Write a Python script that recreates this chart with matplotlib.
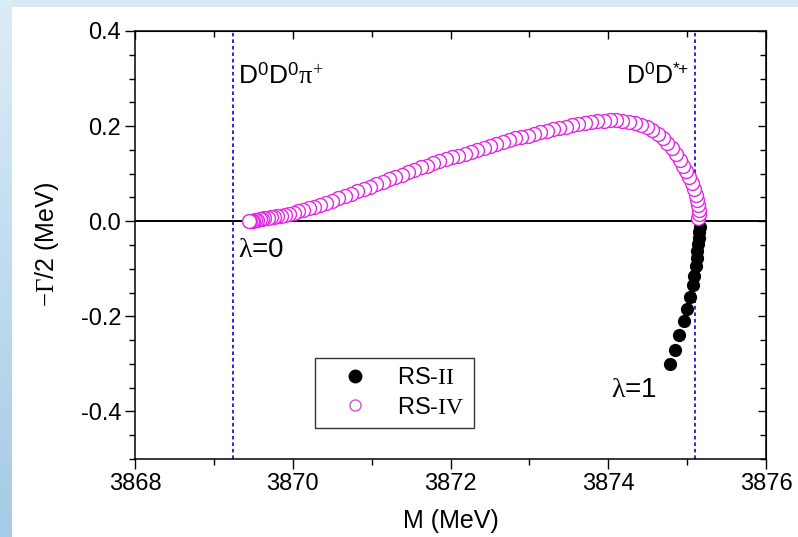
import matplotlib
matplotlib.use('Agg')
import numpy as np
import matplotlib.pyplot as plt
from matplotlib.ticker import MultipleLocator
from matplotlib.lines import Line2D
from matplotlib.patches import Rectangle

plt.rcParams['font.family'] = ['Liberation Sans', 'DejaVu Sans']
plt.rcParams['mathtext.fontset'] = 'custom'
plt.rcParams['mathtext.rm'] = 'Liberation Serif'
plt.rcParams['mathtext.it'] = 'Liberation Serif'
plt.rcParams['mathtext.sf'] = 'Liberation Sans'

# thresholds D0D0pi+ and D0D*+
thresholds = [3869.24, 3875.10]

# RS-IV pole trajectory (lambda = 0 -> 1)
m_rs4 = [3869.45, 3869.46, 3869.48, 3869.50, 3869.52, 3869.55, 3869.58, 3869.61,
         3869.64, 3869.68, 3869.72, 3869.76, 3869.80, 3869.85, 3869.90, 3869.95,
         3870.01, 3870.07, 3870.13, 3870.20, 3870.27, 3870.34, 3870.42, 3870.50,
         3870.58, 3870.66, 3870.74, 3870.82, 3870.90, 3870.98, 3871.06, 3871.14,
         3871.22, 3871.30, 3871.38, 3871.46, 3871.54, 3871.62, 3871.70, 3871.78,
         3871.86, 3871.94, 3872.02, 3872.10, 3872.18, 3872.26, 3872.34, 3872.42,
         3872.50, 3872.58, 3872.66, 3872.74, 3872.82, 3872.90, 3872.98, 3873.06,
         3873.14, 3873.22, 3873.30, 3873.38, 3873.46, 3873.54, 3873.62, 3873.70,
         3873.78, 3873.86, 3873.94, 3874.02, 3874.10, 3874.18, 3874.26, 3874.34,
         3874.42, 3874.49, 3874.56, 3874.63, 3874.69, 3874.75, 3874.81, 3874.86,
         3874.91, 3874.95, 3874.99, 3875.03, 3875.06, 3875.09, 3875.11, 3875.13,
         3875.14, 3875.15, 3875.15, 3875.14]
g_rs4 = [0.000, 0.0005, 0.001, 0.0015, 0.002, 0.003, 0.004, 0.005,
         0.006, 0.007, 0.008, 0.009, 0.010, 0.012, 0.014, 0.016,
         0.018, 0.021, 0.024, 0.027, 0.030, 0.034, 0.038, 0.043,
         0.048, 0.053, 0.058, 0.063, 0.068, 0.073, 0.078, 0.083,
         0.088, 0.093, 0.098, 0.103, 0.108, 0.113, 0.117, 0.122,
         0.126, 0.130, 0.134, 0.138, 0.142, 0.146, 0.150, 0.154,
         0.158, 0.162, 0.166, 0.170, 0.174, 0.177, 0.180, 0.184,
         0.187, 0.190, 0.193, 0.196, 0.199, 0.202, 0.204, 0.206,
         0.208, 0.210, 0.211, 0.212, 0.212, 0.211, 0.209, 0.207,
         0.203, 0.198, 0.191, 0.183, 0.174, 0.164, 0.153, 0.141,
         0.129, 0.117, 0.105, 0.093, 0.080, 0.068, 0.056, 0.045,
         0.034, 0.024, 0.015, 0.006]

# RS-II pole trajectory
m_rs2 = [3875.16, 3875.15, 3875.15, 3875.14, 3875.13, 3875.12, 3875.11, 3875.09,
         3875.07, 3875.04, 3875.00, 3874.96, 3874.90, 3874.84, 3874.78]
g_rs2 = [-0.012, -0.023, -0.035, -0.048, -0.062, -0.078, -0.095, -0.115,
         -0.135, -0.160, -0.185, -0.210, -0.240, -0.270, -0.300]

fig = plt.figure(figsize=(7.98, 5.37), dpi=100)
fig.patch.set_facecolor('#d6e8f4')
fig.patches.append(Rectangle((12 / 798, 0), 1, (537 - 7) / 537, transform=fig.transFigure,
                             facecolor='white', edgecolor='none', zorder=-10))
# slide gradient strip on the left
gax = fig.add_axes([0, 0, 12 / 798, 1], zorder=-5)
gax.imshow(np.linspace(0, 1, 100).reshape(-1, 1), aspect='auto',
           cmap=matplotlib.colors.LinearSegmentedColormap.from_list('bg', ['#dcecf7', '#a6cbe6']))
gax.axis('off')

ax = fig.add_axes([135 / 798, 78 / 537, 631 / 798, 428 / 537])

ax.axhline(0, color='black', lw=1.4, zorder=1)
for t in thresholds:
    ax.axvline(t, color='#1a1ad6', lw=1.3, ls=(0, (2.0, 1.6)), zorder=1)

ax.plot(m_rs2, g_rs2, 'o', ms=8.5, mfc='black', mec='black', zorder=3)
ax.plot(m_rs4[::-1], g_rs4[::-1], 'o', ms=10, mfc='white', mec='#e526e5', mew=1.0,
        zorder=4, ls='none')

ax.set_xlim(3868, 3876)
ax.set_ylim(-0.5, 0.4)
ax.xaxis.set_major_locator(MultipleLocator(2))
ax.xaxis.set_minor_locator(MultipleLocator(1))
ax.yaxis.set_minor_locator(MultipleLocator(0.05))
ax.set_yticks([0.4, 0.2, 0.0, -0.2, -0.4])
ax.set_yticklabels(['0.4', '0.2', '0.0', '-0.2', '-0.4'])
ax.tick_params(which='major', direction='out', length=7, width=1, labelsize=17, pad=3)
ax.tick_params(which='minor', direction='out', length=4, width=1)

# inward ticks on top and right
secx = ax.secondary_xaxis('top')
secx.xaxis.set_major_locator(MultipleLocator(2))
secx.xaxis.set_minor_locator(MultipleLocator(1))
secx.tick_params(which='major', direction='in', length=6, width=1, labeltop=False)
secx.tick_params(which='minor', direction='in', length=4, width=1)
secy = ax.secondary_yaxis('right')
secy.yaxis.set_major_locator(MultipleLocator(0.2))
secy.yaxis.set_minor_locator(MultipleLocator(0.05))
secy.tick_params(which='major', direction='in', length=6, width=1, labelright=False)
secy.tick_params(which='minor', direction='in', length=4, width=1)

for sp in ax.spines.values():
    sp.set_linewidth(1.1)

ax.set_xlabel('M (MeV)', fontsize=18, labelpad=10)
ax.set_ylabel(r'$-\Gamma$/2 (MeV)', fontsize=18, labelpad=14)

ax.text(3869.31, 0.307, r'D$^{\mathsf{0}}$D$^{\mathsf{0}}$$\pi^{+}$', fontsize=19, va='center')
ax.text(3875.02, 0.307, r'D$^{\mathsf{0}}$D$^{\mathsf{*}\!\mathsf{+}}$', fontsize=18,
        va='center', ha='right')
ax.text(3869.31, -0.06, r'$\lambda$=0', fontsize=20, va='center')
ax.text(3874.04, -0.355, r'$\lambda$=1', fontsize=20, va='center')

handles = [Line2D([], [], marker='o', ls='none', ms=9, mfc='black', mec='black'),
           Line2D([], [], marker='o', ls='none', ms=8, mfc='white', mec='#c857d0', mew=1.0)]
leg = ax.legend(handles, [r'RS-$\mathrm{II}$', r'RS-$\mathrm{IV}$'], loc='upper left',
                bbox_to_anchor=(0.285, 0.236), fontsize=17, frameon=True, fancybox=False,
                edgecolor='black', handletextpad=0.5, borderpad=0.4, labelspacing=0.3,
                handlelength=2.6, borderaxespad=0)
leg.get_frame().set_linewidth(1.0)

plt.savefig('out.png', dpi=100)
plt.close()
